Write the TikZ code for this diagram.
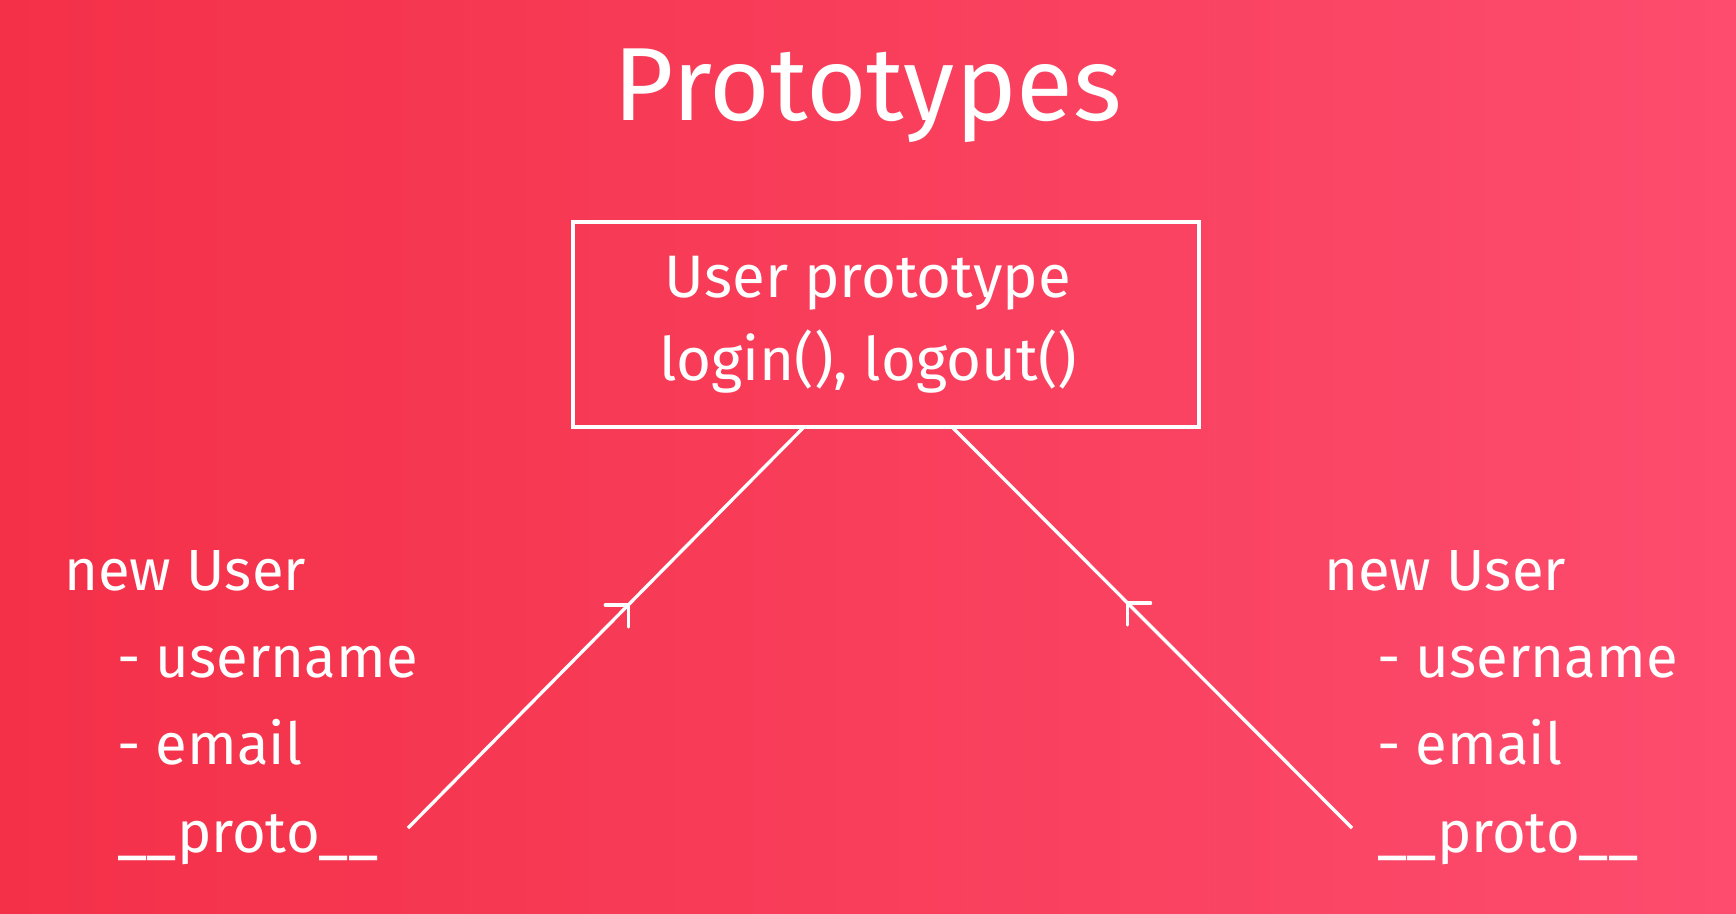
\documentclass[tikz,border=0pt]{standalone}
\usepackage{fontspec}
\setmainfont{Fira Sans}
\usetikzlibrary{calc}
\definecolor{bgleft}{RGB}{244,48,72}
\definecolor{bgright}{RGB}{253,76,110}
\tikzset{
  lbl/.style={text=white, anchor=base west, inner sep=0pt, font=\fontsize{58}{70}\selectfont},
  boxtxt/.style={text=white, anchor=base, inner sep=0pt, font=\fontsize{60}{70}\selectfont},
  conn/.style={draw=white, line width=3.3pt},
  armln/.style={draw=white, line width=3.3pt, line cap=round}
}
\begin{document}
\begin{tikzpicture}[x=1pt,y=-1pt]
\useasboundingbox (0,0) rectangle (1736,913);
\shade[left color=bgleft, right color=bgright] (0,0) rectangle (1736,913);
% title
\node[text=white, anchor=base, inner sep=0pt, font=\fontsize{104}{120}\selectfont] (title) at (868,120) {Prototypes};
% prototype box
\node[draw=white, line width=3.8pt, minimum width=626pt, minimum height=205pt, inner sep=0pt] (box) at (886,324.5) {};
\node[boxtxt] (bt1) at (868,297) {User prototype};
\node[boxtxt] (bt2) at (868,380) {login(), logout()};
% left object
\node[lbl] (l1) at (64,590) {new User};
\node[lbl] (l2) at (117,677) {- username};
\node[lbl] (l3) at (117,764) {- email};
\node[lbl] (l4) at (117,852) {\_\_proto\_\_};
% right object
\node[lbl] (r1) at (1324,590) {new User};
\node[lbl] (r2) at (1377,677) {- username};
\node[lbl] (r3) at (1377,764) {- email};
\node[lbl] (r4) at (1377,852) {\_\_proto\_\_};
% connectors
\coordinate (lt) at (803,428);
\coordinate (lb) at (408,828);
\coordinate (rt) at (953,428);
\coordinate (rb) at (1352,828);
\draw[conn] (lb) -- (lt);
\draw[conn] (rb) -- (rt);
\coordinate (la) at ($(lb)!0.5575!(lt)$);
\coordinate (ra) at ($(rb)!0.5625!(rt)$);
\draw[armln] ($(la)+(-23,0)$) -- (la) -- ($(la)+(0,22)$);
\draw[armln] ($(ra)+(23,0)$) -- (ra) -- ($(ra)+(0,22)$);
\end{tikzpicture}
\end{document}
